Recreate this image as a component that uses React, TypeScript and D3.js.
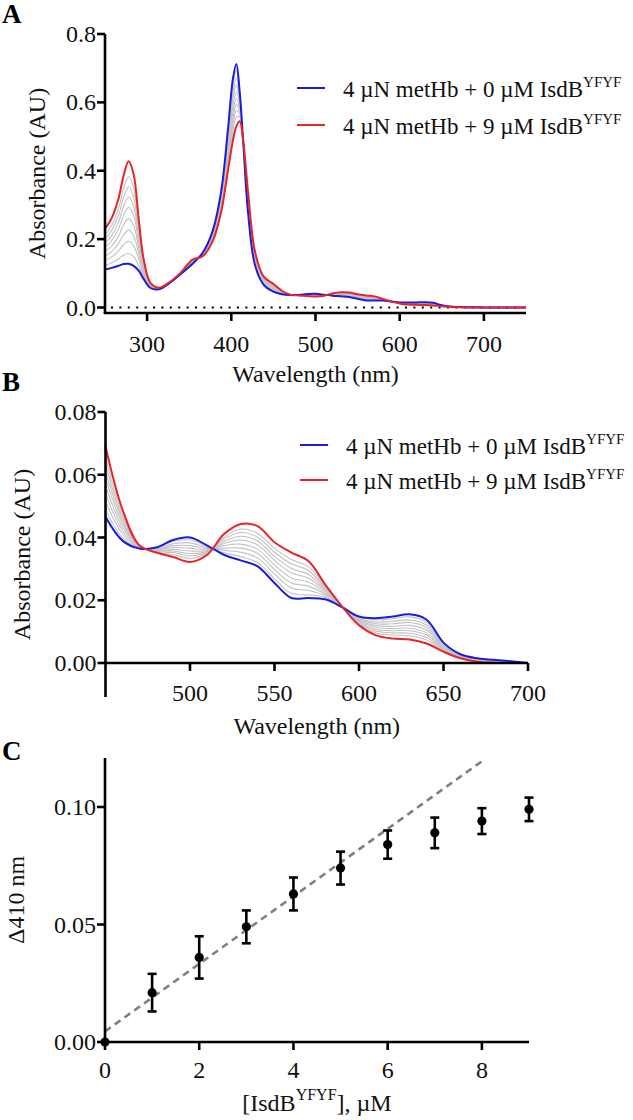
import React, { useRef, useEffect } from 'react';
import * as d3 from 'd3';

// wavelength grid (nm) shared by both spectral panels
const wavelengths = [
  250, 258, 266, 272, 278, 284, 290, 296, 304, 314,
  326, 340, 354, 366, 378, 388, 396, 402, 406, 410,
  414, 420, 428, 438, 450, 460, 470, 480, 490, 500,
  510, 520, 530, 540, 550, 560, 570, 580, 590, 600,
  610, 620, 630, 640, 650, 660, 670, 685, 700, 725, 750,
];

// 4 uN metHb + 0 uM IsdB(YFYF)
const spectrum0uM = [
  0.111, 0.116, 0.122, 0.127, 0.128, 0.122, 0.108, 0.083, 0.057, 0.053,
  0.070, 0.098, 0.128, 0.160, 0.225, 0.340, 0.52, 0.67, 0.712, 0.63,
  0.49, 0.275, 0.125, 0.068, 0.0466, 0.039, 0.0365, 0.0368, 0.0392, 0.0400,
  0.0375, 0.0345, 0.0327, 0.0308, 0.0255, 0.0207, 0.0207, 0.0203, 0.0178, 0.0148,
  0.0143, 0.0148, 0.0155, 0.0138, 0.0065, 0.0028, 0.0015, 0.0008, 0, 0, 0,
];

// 4 uN metHb + 9 uM IsdB(YFYF)
const spectrum9uM = [
  0.230, 0.262, 0.318, 0.385, 0.428, 0.390, 0.260, 0.140, 0.072, 0.058,
  0.073, 0.102, 0.140, 0.150, 0.195, 0.280, 0.40, 0.49, 0.53, 0.545,
  0.49, 0.335, 0.165, 0.092, 0.069, 0.049, 0.0375, 0.0352, 0.0338, 0.0322,
  0.0344, 0.0410, 0.0443, 0.0436, 0.0385, 0.0352, 0.0325, 0.0250, 0.0180, 0.0120,
  0.0088, 0.0078, 0.0075, 0.0062, 0.0036, 0.0015, 0.0004, 0, 0, 0, 0,
];

// 1..8 uM titration steps (grey traces)
const intermediateSpectra = [
  [0.123, 0.131, 0.142, 0.153, 0.158, 0.149, 0.123, 0.089, 0.059, 0.054,
   0.070, 0.098, 0.129, 0.159, 0.222, 0.334, 0.508, 0.652, 0.694, 0.622,
   0.49, 0.281, 0.129, 0.070, 0.0488, 0.040, 0.0366, 0.0366, 0.0387, 0.0392,
   0.0372, 0.0352, 0.0339, 0.0320, 0.0268, 0.0222, 0.0217, 0.0210, 0.0178, 0.0147,
   0.0138, 0.0141, 0.0147, 0.0130, 0.0062, 0.0027, 0.0014, 0.0007, 0, 0, 0],
  [0.137, 0.148, 0.165, 0.184, 0.194, 0.181, 0.141, 0.096, 0.060, 0.054,
   0.071, 0.099, 0.131, 0.158, 0.218, 0.327, 0.494, 0.630, 0.672, 0.611,
   0.49, 0.288, 0.134, 0.072, 0.0515, 0.0412, 0.0367, 0.0364, 0.0380, 0.0383,
   0.0368, 0.0359, 0.0353, 0.0335, 0.0284, 0.0239, 0.0231, 0.0215, 0.0178, 0.0143,
   0.0131, 0.0133, 0.0137, 0.0121, 0.0059, 0.0025, 0.0013, 0.0006, 0, 0, 0],
  [0.150, 0.164, 0.187, 0.212, 0.227, 0.210, 0.158, 0.102, 0.062, 0.055,
   0.071, 0.099, 0.132, 0.157, 0.215, 0.320, 0.480, 0.611, 0.652, 0.602,
   0.49, 0.295, 0.138, 0.075, 0.0540, 0.0423, 0.0368, 0.0363, 0.0374, 0.0374,
   0.0365, 0.0366, 0.0366, 0.0349, 0.0298, 0.0255, 0.0245, 0.0220, 0.0179, 0.0140,
   0.0125, 0.0125, 0.0129, 0.0113, 0.0055, 0.0024, 0.0011, 0.0005, 0, 0, 0],
  [0.163, 0.180, 0.208, 0.241, 0.260, 0.240, 0.175, 0.108, 0.064, 0.055,
   0.071, 0.100, 0.133, 0.156, 0.212, 0.314, 0.467, 0.591, 0.632, 0.593,
   0.49, 0.301, 0.143, 0.078, 0.0565, 0.0434, 0.0369, 0.0361, 0.0368, 0.0366,
   0.0361, 0.0374, 0.0379, 0.0363, 0.0312, 0.0271, 0.0258, 0.0225, 0.0179, 0.0137,
   0.0119, 0.0117, 0.0120, 0.0105, 0.0052, 0.0022, 0.0010, 0.0004, 0, 0, 0],
  [0.176, 0.196, 0.230, 0.269, 0.293, 0.269, 0.192, 0.114, 0.065, 0.056,
   0.072, 0.100, 0.135, 0.155, 0.209, 0.307, 0.454, 0.571, 0.612, 0.583,
   0.49, 0.308, 0.147, 0.081, 0.0589, 0.0445, 0.0370, 0.0359, 0.0362, 0.0357,
   0.0358, 0.0381, 0.0392, 0.0376, 0.0327, 0.0287, 0.0271, 0.0230, 0.0179, 0.0134,
   0.0113, 0.0110, 0.0111, 0.0096, 0.0049, 0.0021, 0.0009, 0.0004, 0, 0, 0],
  [0.188, 0.211, 0.249, 0.295, 0.323, 0.296, 0.207, 0.120, 0.067, 0.056,
   0.072, 0.101, 0.136, 0.154, 0.206, 0.301, 0.442, 0.553, 0.594, 0.575,
   0.49, 0.314, 0.151, 0.083, 0.0612, 0.0455, 0.0372, 0.0358, 0.0357, 0.0349,
   0.0355, 0.0387, 0.0404, 0.0389, 0.0340, 0.0301, 0.0283, 0.0234, 0.0179, 0.0131,
   0.0107, 0.0103, 0.0103, 0.0089, 0.0046, 0.0020, 0.0008, 0.0003, 0, 0, 0],
  [0.200, 0.226, 0.269, 0.321, 0.353, 0.323, 0.222, 0.126, 0.068, 0.057,
   0.072, 0.101, 0.137, 0.153, 0.203, 0.295, 0.430, 0.535, 0.576, 0.566,
   0.49, 0.320, 0.155, 0.086, 0.0634, 0.0465, 0.0373, 0.0356, 0.0352, 0.0342,
   0.0352, 0.0394, 0.0416, 0.0401, 0.0353, 0.0316, 0.0295, 0.0239, 0.0180, 0.0128,
   0.0102, 0.0096, 0.0095, 0.0081, 0.0043, 0.0018, 0.0007, 0.0002, 0, 0, 0],
  [0.212, 0.240, 0.289, 0.346, 0.383, 0.350, 0.237, 0.131, 0.070, 0.057,
   0.073, 0.101, 0.138, 0.152, 0.200, 0.289, 0.418, 0.517, 0.557, 0.558,
   0.49, 0.326, 0.159, 0.089, 0.0656, 0.0475, 0.0374, 0.0354, 0.0346, 0.0334,
   0.0349, 0.0400, 0.0427, 0.0413, 0.0366, 0.0330, 0.0307, 0.0243, 0.0180, 0.0125,
   0.0096, 0.0089, 0.0087, 0.0073, 0.0040, 0.0017, 0.0006, 0.0001, 0, 0, 0],
];

const legendConcs = ['0', '9'];

// panel C: delta A410 vs IsdB(YFYF)
const isdbConc = [0, 1, 2, 3, 4, 5, 6, 7, 8, 9];
const delta410 = [0, 0.021, 0.036, 0.049, 0.063, 0.074, 0.084, 0.089, 0.094, 0.099];
const delta410Err = [0, 0.008, 0.009, 0.007, 0.007, 0.007, 0.006, 0.0065, 0.0055, 0.005];
const fitIntercept = 0.0045;
const fitSlope = 0.01437;
const fitRange = [0, 8];

const ticksA_x = [300, 400, 500, 600, 700];
const ticksA_y = [0, 0.2, 0.4, 0.6, 0.8];
const ticksB_x = [500, 550, 600, 650, 700];
const ticksB_y = [0, 0.02, 0.04, 0.06, 0.08];
const ticksC_x = [0, 2, 4, 6, 8];
const ticksC_y = [0, 0.05, 0.1];

const FONT = "'Liberation Serif', 'Times New Roman', serif";
const BLUE = '#1c1cdc';
const RED = '#e6242a';

const App = () => {
  const ref = useRef<SVGSVGElement>(null);

  useEffect(() => {
    const svg = d3.select(ref.current);
    svg.selectAll('*').remove();
    svg.style('font-family', FONT);

    const axisLine = (g, x1, y1, x2, y2) =>
      g.append('line').attr('x1', x1).attr('y1', y1).attr('x2', x2).attr('y2', y2)
        .attr('stroke', '#000').attr('stroke-width', 2.6);

    const addText = (g, x, y, txt, size, anchor) =>
      g.append('text').attr('x', x).attr('y', y).attr('text-anchor', anchor)
        .style('font-size', size + 'px').attr('fill', '#111').text(txt);

    const spectraPanel = (c) => {
      const g = svg.append('g');
      const x = d3.scaleLinear().domain(c.xDomain).range(c.xRange);
      const y = d3.scaleLinear().domain(c.yDomain).range(c.yRange);
      const idx = wavelengths.map((_, i) => i)
        .filter(i => wavelengths[i] >= c.xDomain[0] && wavelengths[i] <= c.xDomain[1]);
      const line = (vals) => d3.line<number>()
        .x(i => x(wavelengths[i]))
        .y(i => y(vals[i]))
        .curve(d3.curveCatmullRom.alpha(0.5))(idx);

      if (c.dotted) {
        g.append('line').attr('x1', c.xRange[0] + 6).attr('x2', c.xRange[1])
          .attr('y1', y(0)).attr('y2', y(0))
          .attr('stroke', '#000').attr('stroke-width', 2.2).attr('stroke-dasharray', '2 6.4');
      }

      intermediateSpectra.forEach(s => {
        g.append('path').attr('d', line(s)).attr('fill', 'none')
          .attr('stroke', '#c2c2c2').attr('stroke-width', 1.1);
      });
      g.append('path').attr('d', line(spectrum0uM)).attr('fill', 'none')
        .attr('stroke', BLUE).attr('stroke-width', 2);
      g.append('path').attr('d', line(spectrum9uM)).attr('fill', 'none')
        .attr('stroke', RED).attr('stroke-width', 2);

      // axes
      axisLine(g, c.xRange[0], c.yAxisTop, c.xRange[0], c.yAxisBottom);
      axisLine(g, c.xRange[0] - 1.3, c.xAxisY, c.xRange[1], c.xAxisY);
      c.yTicks.forEach(v => {
        axisLine(g, c.xRange[0] - 8, y(v), c.xRange[0], y(v));
        addText(g, c.xRange[0] - 9, y(v) + 8, d3.format(c.yFmt)(v), 24, 'end');
      });
      c.xTicks.forEach(v => {
        axisLine(g, x(v), c.xAxisY, x(v), c.xAxisY + 8);
        addText(g, x(v), c.tickLabelY, String(v), 24, 'middle');
      });
      addText(g, (c.xRange[0] + c.xRange[1]) / 2, c.titleY, 'Wavelength (nm)', 24, 'middle');
      g.append('text')
        .attr('transform', `translate(${c.yTitleX},${(c.yAxisTop + c.yAxisBottom) / 2}) rotate(-90)`)
        .attr('text-anchor', 'middle').attr('dy', '0.35em')
        .style('font-size', '24px').attr('fill', '#111').text('Absorbance (AU)');

      // legend
      [BLUE, RED].forEach((col, k) => {
        const ly = c.legendY[k];
        g.append('line').attr('x1', c.legendX[0]).attr('x2', c.legendX[1])
          .attr('y1', ly).attr('y2', ly).attr('stroke', col).attr('stroke-width', 2);
        const t = g.append('text').attr('x', c.legendX[2]).attr('y', ly + 9)
          .style('font-size', '23px').attr('fill', '#111');
        t.append('tspan').text(`4 \u00b5N metHb + ${legendConcs[k]} \u00b5M IsdB`);
        t.append('tspan').attr('dy', -10).style('font-size', '15px').text('YFYF');
      });

      g.append('text').attr('x', 2).attr('y', c.letterY).style('font-size', '27px')
        .style('font-weight', 'bold').attr('fill', '#000').text(c.letter);
    };

    spectraPanel({
      letter: 'A', letterY: 23,
      xDomain: [250, 750], xRange: [105, 526],
      yDomain: [0, 0.8], yRange: [307.5, 34],
      yAxisTop: 34, yAxisBottom: 313, xAxisY: 313,
      xTicks: ticksA_x, yTicks: ticksA_y, yFmt: '.1f',
      tickLabelY: 352, titleY: 382, yTitleX: 37,
      legendY: [88, 125], legendX: [297, 325, 343],
      dotted: true,
    });

    spectraPanel({
      letter: 'B', letterY: 391,
      xDomain: [450, 700], xRange: [105.5, 528],
      yDomain: [0, 0.08], yRange: [663, 412],
      yAxisTop: 412, yAxisBottom: 697, xAxisY: 663,
      xTicks: ticksB_x, yTicks: ticksB_y, yFmt: '.2f',
      tickLabelY: 701, titleY: 734, yTitleX: 22,
      legendY: [445, 480], legendX: [300, 328, 346],
      dotted: false,
    });

    // panel C
    const g = svg.append('g');
    const x = d3.scaleLinear().domain([0, 9]).range([105, 529]);
    const y = d3.scaleLinear().domain([0, 0.12]).range([1042, 760]);

    g.append('line')
      .attr('x1', x(fitRange[0])).attr('y1', y(fitIntercept + fitSlope * fitRange[0]))
      .attr('x2', x(fitRange[1])).attr('y2', y(fitIntercept + fitSlope * fitRange[1]))
      .attr('stroke', '#808080').attr('stroke-width', 2.6).attr('stroke-dasharray', '7 5');

    axisLine(g, 105, 758, 105, 1042);
    axisLine(g, 105, 1042, 529, 1042);
    ticksC_y.forEach(v => {
      axisLine(g, 97, y(v), 105, y(v));
      addText(g, 96, y(v) + 8, d3.format('.2f')(v), 24, 'end');
    });
    ticksC_x.forEach(v => {
      axisLine(g, x(v), 1042, x(v), 1050);
      addText(g, x(v), 1078, String(v), 24, 'middle');
    });

    isdbConc.forEach((c, i) => {
      const e = delta410Err[i];
      if (e > 0) {
        const top = y(delta410[i] + e), bot = y(delta410[i] - e);
        axisLine(g, x(c), top, x(c), bot);
        axisLine(g, x(c) - 4.5, top, x(c) + 4.5, top);
        axisLine(g, x(c) - 4.5, bot, x(c) + 4.5, bot);
      }
      g.append('circle').attr('cx', x(c)).attr('cy', y(delta410[i])).attr('r', 4.6).attr('fill', '#000');
    });

    const xt = g.append('text').attr('x', 317).attr('y', 1111).attr('text-anchor', 'middle')
      .style('font-size', '24px').attr('fill', '#111');
    xt.append('tspan').text('[IsdB');
    xt.append('tspan').attr('dy', -11).style('font-size', '16px').text('YFYF');
    xt.append('tspan').attr('dy', 11).text('], \u00b5M');

    g.append('text')
      .attr('transform', `translate(16,900) rotate(-90)`)
      .attr('text-anchor', 'middle').attr('dy', '0.35em')
      .style('font-size', '24px').attr('fill', '#111').text('\u0394410 nm');

    g.append('text').attr('x', 2).attr('y', 760).style('font-size', '27px')
      .style('font-weight', 'bold').attr('fill', '#000').text('C');
  }, []);

  return (
    <svg ref={ref} width={633} height={1120}
      style={{ position: 'absolute', left: 0, top: 0, background: '#fff' }} />
  );
};

export default App;
